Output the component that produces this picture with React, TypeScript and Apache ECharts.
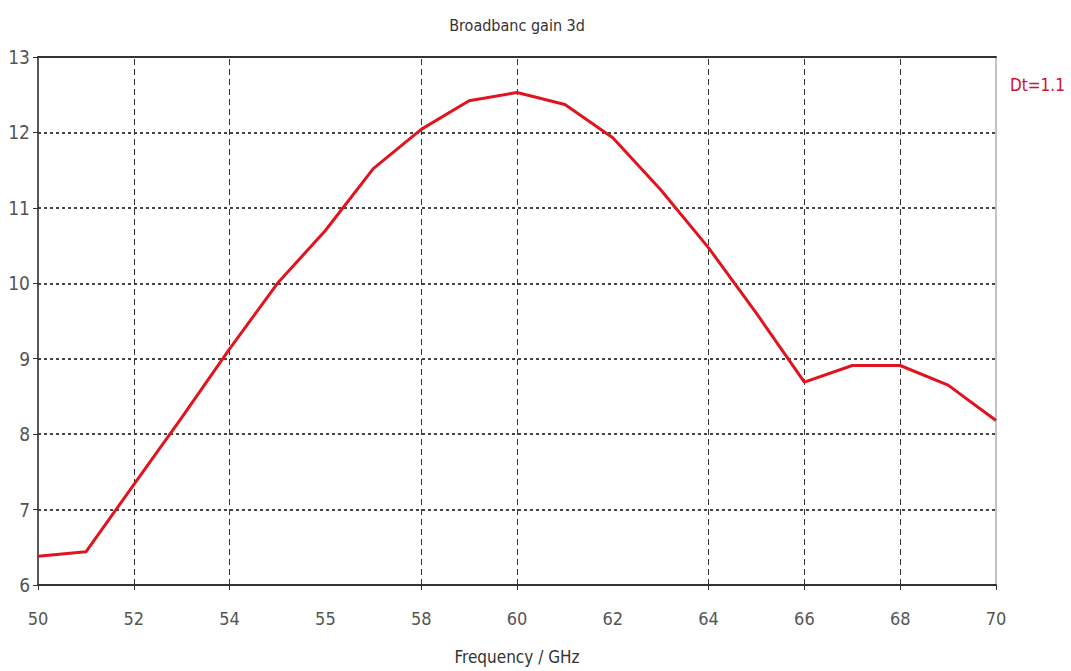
import React, { useEffect, useRef } from "react";
import * as echarts from "echarts";

const frequencies = [50, 51, 52, 53, 54, 55, 56, 57, 58, 59, 60, 61, 62, 63, 64, 65, 66, 67, 68, 69, 70];
const gainValues = [6.38, 6.44, 7.33, 8.22, 9.13, 10.0, 10.7, 11.52, 12.04, 12.42, 12.53, 12.37, 11.93, 11.24, 10.47, 9.6, 8.69, 8.91, 8.91, 8.65, 8.18];
const xTickLabels = ["50", "52", "54", "55", "58", "60", "62", "64", "66", "68", "70"];
const xTickMarks = [50, 52, 54, 58, 60, 64, 66, 68, 70];
const xGridLines = [52, 54, 58, 60, 64, 66, 68];
const chartTitle = "Broadbanc gain 3d";
const xAxisTitle = "Frequency / GHz";
const annotation = "Dt=1.1";

const FONT = "'Liberation Sans Narrow', 'DejaVu Sans Condensed', 'Arial Narrow', sans-serif";

export default function App() {
  const ref = useRef<HTMLDivElement>(null);

  useEffect(() => {
    if (!ref.current) return;
    const chart = echarts.init(ref.current, null, { renderer: "svg" });
    const data = frequencies.map((f, i) => [f, gainValues[i]]);
    chart.setOption({
      animation: false,
      backgroundColor: "#ffffff",
      grid: { left: 38, right: 75, top: 57, bottom: 86, show: true, borderColor: "#888", borderWidth: 1 },
      xAxis: [
        {
          type: "value",
          min: 50,
          max: 70,
          interval: 2,
          axisLine: { show: true, onZero: false, lineStyle: { color: "#333", width: 2 } },
          axisTick: { show: true, length: 5, customValues: xTickMarks, lineStyle: { color: "#333", width: 1 } },
          axisLabel: {
            margin: 24,
            color: "#555",
            fontFamily: FONT,
            fontSize: 18,
            formatter: (v: number) => xTickLabels[Math.round((v - 50) / 2)] ?? "",
          },
          splitLine: { show: false },
        },
        {
          type: "value",
          position: "top",
          min: 50,
          max: 70,
          axisLine: { show: true, onZero: false, lineStyle: { color: "#333", width: 2 } },
          axisTick: { show: false },
          axisLabel: { show: false },
          splitLine: { show: false },
        },
      ],
      yAxis: {
        type: "value",
        min: 6,
        max: 13,
        interval: 1,
        axisLine: { show: true, onZero: false, lineStyle: { color: "#333", width: 1.5 } },
        axisTick: { show: true, length: 5, lineStyle: { color: "#333" } },
        axisLabel: { margin: 8, color: "#555", fontFamily: FONT, fontSize: 19 },
        splitLine: { show: true, lineStyle: { color: "#444", width: 2, type: [3, 3] } },
      },
      series: [
        {
          type: "line",
          data,
          z: 1,
          symbol: "none",
          silent: true,
          lineStyle: { opacity: 0 },
          markLine: {
            silent: true,
            symbol: ["none", "none"],
            label: { show: false },
            lineStyle: { color: "#333", width: 1, type: [6, 4] },
            data: xGridLines.map((x) => ({ xAxis: x })),
          },
        },
        {
          type: "line",
          data,
          z: 5,
          symbol: "none",
          lineStyle: { color: "#e0141e", width: 3 },
        },
      ],
      graphic: [
        {
          type: "text",
          x: 517,
          y: 25,
          style: { text: chartTitle, align: "center", verticalAlign: "middle", fill: "#333", fontFamily: FONT, fontSize: 16 },
        },
        {
          type: "text",
          x: 517,
          y: 657,
          style: { text: xAxisTitle, align: "center", verticalAlign: "middle", fill: "#333", fontFamily: FONT, fontSize: 17 },
        },
        {
          type: "text",
          x: 1010,
          y: 85,
          style: { text: annotation, align: "left", verticalAlign: "middle", fill: "#d2102a", fontFamily: FONT, fontSize: 17 },
        },
      ],
    });
    return () => chart.dispose();
  }, []);

  return <div ref={ref} style={{ position: "fixed", left: 0, top: 0, width: 1071, height: 671 }} />;
}
